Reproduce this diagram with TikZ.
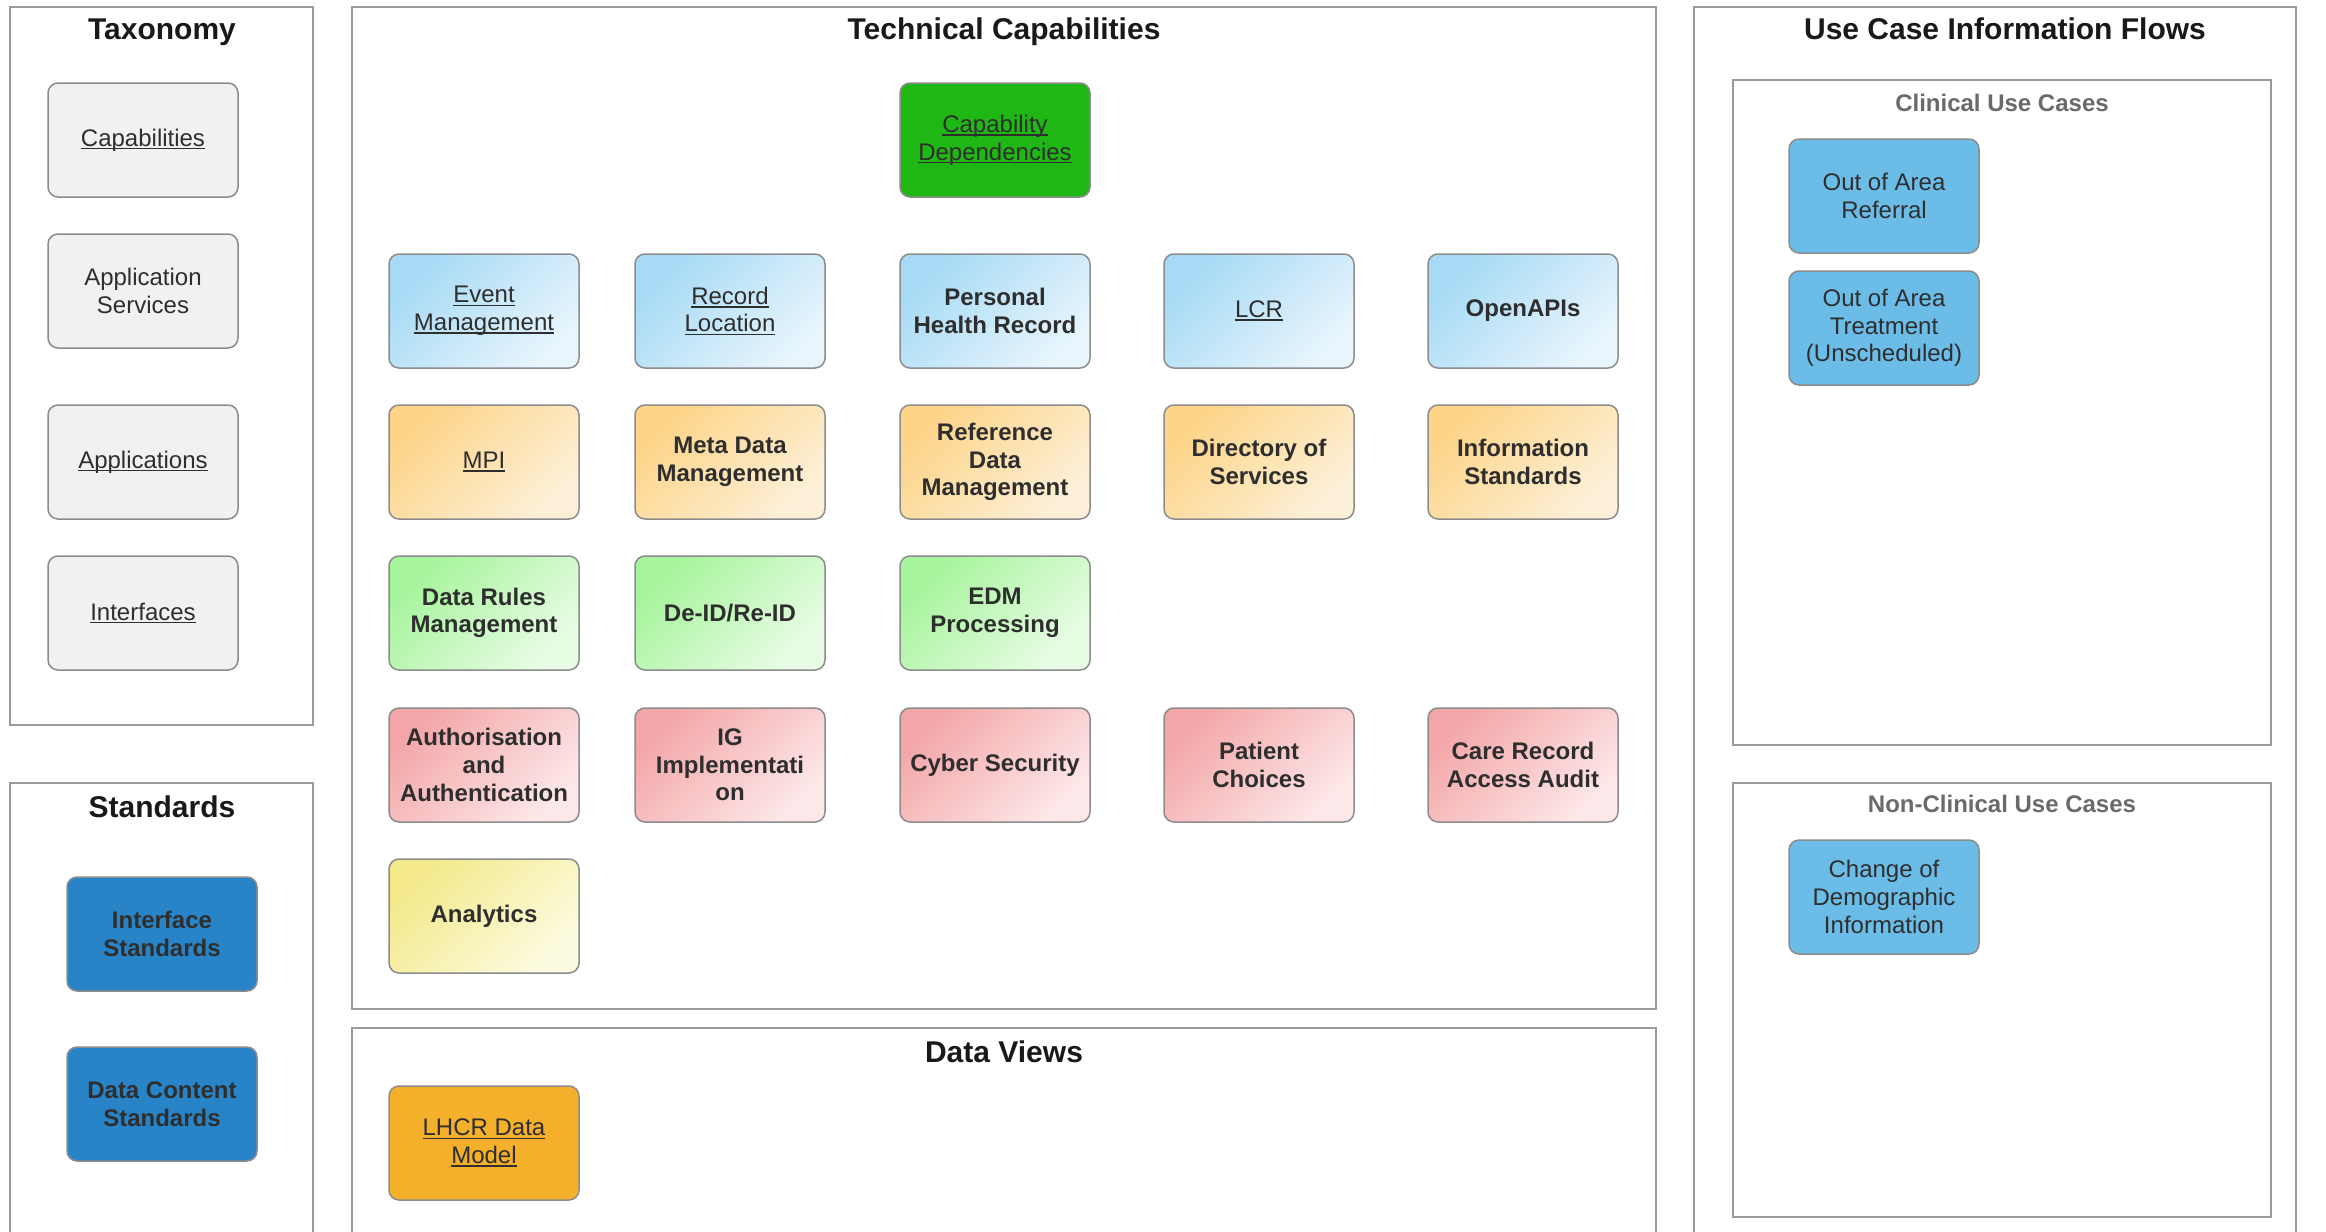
\documentclass[tikz,border=0pt]{standalone}
\usepackage{fontspec}
\setmainfont{Liberation Sans}
\newcommand\lnk[1]{\setbox0\hbox{#1}\rlap{\rule[-1.6pt]{\wd0}{0.8pt}}\box0}
\definecolor{pgray}{HTML}{9A9A9A}
\definecolor{bgray}{HTML}{8C8C8C}
\definecolor{txt}{HTML}{2E2E2E}
\definecolor{taxfill}{HTML}{F1F1F1}
\definecolor{cdgreen}{HTML}{1FB714}
\definecolor{blueA}{HTML}{A6DAF5}
\definecolor{blueB}{HTML}{E8F5FD}
\definecolor{orA}{HTML}{FDD488}
\definecolor{orB}{HTML}{FDF0D8}
\definecolor{grA}{HTML}{A6F49B}
\definecolor{grB}{HTML}{E8FCE5}
\definecolor{rdA}{HTML}{F3A6A8}
\definecolor{rdB}{HTML}{FDE8E9}
\definecolor{ylA}{HTML}{F3E98A}
\definecolor{ylB}{HTML}{FCFBE0}
\definecolor{stdblue}{HTML}{2884C6}
\definecolor{lhcr}{HTML}{F4B02B}
\definecolor{ucblue}{HTML}{6CBCE8}
\definecolor{subttl}{HTML}{6A6A6A}
\tikzset{
  panel/.style={draw=pgray, line width=1pt},
  box/.style={rounded corners=5pt, draw=bgray, line width=0.75pt, minimum width=95pt, minimum height=57pt, inner sep=1pt, align=center, text=txt, font=\fontsize{12pt}{13.8pt}\selectfont},
  bbox/.style={box, font=\fontsize{12pt}{13.8pt}\selectfont\bfseries},
  gblue/.style={top color=blueA, bottom color=blueB, shading angle=45},
  gorange/.style={top color=orA, bottom color=orB, shading angle=45},
  ggreen/.style={top color=grA, bottom color=grB, shading angle=45},
  gred/.style={top color=rdA, bottom color=rdB, shading angle=45},
  gyellow/.style={top color=ylA, bottom color=ylB, shading angle=45},
  ptitle/.style={anchor=base, font=\fontsize{15pt}{18pt}\selectfont\bfseries, text=black!90},
  stitle/.style={font=\fontsize{12pt}{14pt}\selectfont\bfseries, text=subttl},
}
\begin{document}
\begin{tikzpicture}[x=0.5pt, y=-0.5pt]
\useasboundingbox (0,0) rectangle (2326,1232);
\clip (0,0) rectangle (2326,1232);
\fill[white] (0,0) rectangle (2326,1232);
% panels
\draw[panel] (10,7) rectangle (313,725);
\draw[panel] (10,783) rectangle (313,1260);
\draw[panel] (352,7) rectangle (1656,1009);
\draw[panel] (352,1028) rectangle (1656,1260);
\draw[panel] (1694,7) rectangle (2296,1260);
\draw[panel] (1733,80) rectangle (2271,745);
\draw[panel] (1733,783) rectangle (2271,1217);
% titles
\node[ptitle] (tTax) at (162,39) {Taxonomy};
\node[ptitle] (tStd) at (162,817) {Standards};
\node[ptitle] (tTech) at (1004,39) {Technical Capabilities};
\node[ptitle] (tDV) at (1004,1062) {Data Views};
\node[ptitle] (tUC) at (2005,39) {Use Case Information Flows};
\node[stitle] (tCl) at (2002,103) {Clinical Use Cases};
\node[stitle] (tNC) at (2002,804) {Non-Clinical Use Cases};
% taxonomy
\node[box, fill=taxfill] (cap) at (143,140) {\lnk{Capabilities}};
\node[box, fill=taxfill] (aps) at (143,291) {Application\\Services};
\node[box, fill=taxfill] (app) at (143,462) {\lnk{Applications}};
\node[box, fill=taxfill] (ifc) at (143,613) {\lnk{Interfaces}};
% standards
\node[bbox, fill=stdblue] (istd) at (162,934) {Interface\\Standards};
\node[bbox, fill=stdblue] (dcs) at (162,1104) {Data Content\\Standards};
% technical capabilities
\node[box, fill=cdgreen] (cdep) at (995,140) {\lnk{Capability}\\\lnk{Dependencies}};
\node[box, gblue] (evt) at (484,311) {\lnk{Event}\\\lnk{Management}};
\node[box, gblue] (rl) at (730,311) {\lnk{Record}\\\lnk{Location}};
\node[bbox, gblue] (phr) at (995,311) {Personal\\Health Record};
\node[box, gblue] (lcr) at (1259,311) {\lnk{LCR}};
\node[bbox, gblue] (oapi) at (1523,311) {OpenAPIs};
\node[box, gorange] (mpi) at (484,462) {\lnk{MPI}};
\node[bbox, gorange] (mdm) at (730,462) {Meta Data\\Management};
\node[bbox, gorange] (rdm) at (995,462) {Reference\\Data\\Management};
\node[bbox, gorange] (dos) at (1259,462) {Directory of\\Services};
\node[bbox, gorange] (ist) at (1523,462) {Information\\Standards};
\node[bbox, ggreen] (drm) at (484,613) {Data Rules\\Management};
\node[bbox, ggreen] (deid) at (730,613) {De-ID/Re-ID};
\node[bbox, ggreen] (edm) at (995,613) {EDM\\Processing};
\node[bbox, gred] (aa) at (484,765) {Authorisation\\and\\Authentication};
\node[bbox, gred] (ig) at (730,765) {IG\\Implementati\\on};
\node[bbox, gred] (cyb) at (995,765) {Cyber Security};
\node[bbox, gred] (pc) at (1259,765) {Patient\\Choices};
\node[bbox, gred] (cra) at (1523,765) {Care Record\\Access Audit};
\node[bbox, gyellow] (ana) at (484,916) {Analytics};
% data views
\node[box, fill=lhcr] (lhcr) at (484,1143) {\lnk{LHCR Data}\\\lnk{Model}};
% use cases
\node[box, fill=ucblue] (oar) at (1884,196) {Out of Area\\Referral};
\node[box, fill=ucblue] (oat) at (1884,328) {Out of Area\\Treatment\\(Unscheduled)};
\node[box, fill=ucblue] (cdi) at (1884,897) {Change of\\Demographic\\Information};
\end{tikzpicture}
\end{document}
